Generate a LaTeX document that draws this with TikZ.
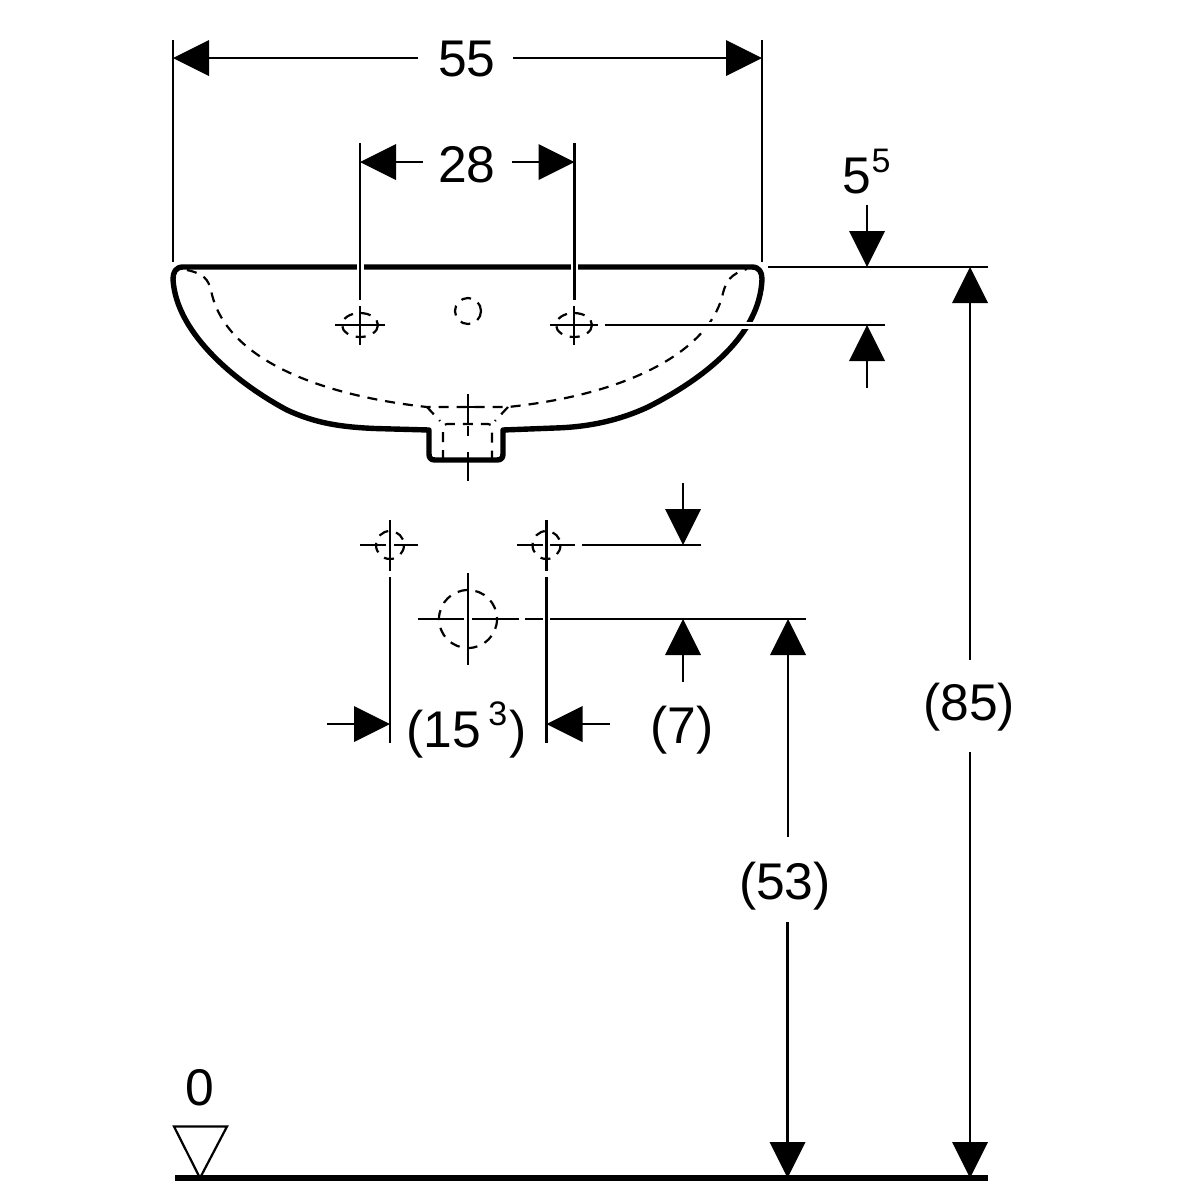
\documentclass[tikz,border=0pt]{standalone}
\usepackage{fontspec}
\setmainfont{Liberation Sans}
\begin{document}
\begin{tikzpicture}[x=0.5pt,y=-0.5pt,
  thinl/.style={line width=1.1pt},
  thickl/.style={line width=2.7pt,line join=round},
  dashl/.style={line width=1.1pt,dash pattern=on 5pt off 4pt},
  halo/.style={draw=white,line width=3.5pt},
  tip/.style={fill=black,draw=none},
  lab/.style={inner sep=0pt,font=\fontsize{25.8}{30}\selectfont},
  suplab/.style={inner sep=0pt,font=\fontsize{17}{20}\selectfont}]
\useasboundingbox (0,0) rectangle (1200,1200);
\fill[white] (0,0) rectangle (1200,1200);
% inner bowl (dashed)
\draw[dashl] (187,270) .. controls (205,274) and (208,280) .. (211,290)
  .. controls (222,350) and (300,393) .. (427,407) -- (508,407)
  .. controls (640,393) and (712,345) .. (723,293)
  .. controls (726,282) and (730,274) .. (747,269);
\draw[dashl] (427,407) -- (440,421) (508,407) -- (495,421);
\draw[dashl] (443,460) -- (443,428) .. controls (443,425) and (445,424) .. (447,424) -- (488,424) .. controls (490,424) and (492,425) .. (492,428) -- (492,460);
% outline
\draw[thickl] (183,267) -- (752,267) .. controls (759,267) and (762,272) .. (762,279)
  .. controls (760,335) and (705,378) .. (648,407)
  .. controls (620,420) and (590,427) .. (555,428) -- (503,430)
  -- (503,454) .. controls (503,458) and (501,460) .. (497,460) -- (435,460)
  .. controls (431,460) and (429,458) .. (429,454) -- (429,430) -- (375,428.5)
  .. controls (340,427) and (315,423) .. (287,410)
  .. controls (240,385) and (176,335) .. (173,279)
  .. controls (173,272) and (176,267) .. (183,267) -- cycle;
% extension lines with gaps
\draw[halo] (360,258) -- (360,276);
\draw[halo] (574,258) -- (574,276);
\draw[halo] (700,325) -- (765,325);
\draw[thinl] (173,40) -- (173,262) (762,40) -- (762,262);
\draw[thinl] (360,143) -- (360,300) (574.5,143) -- (574.5,300);
\draw[thinl] (605,325) -- (885,325) (768,267) -- (988,267);
% tap holes
\foreach \cx/\a/\b in {360/335/385,574/550/598}{
  \draw[dashl] (\cx,325) ellipse [x radius=18,y radius=12];
  \draw[thinl] (\a,325) -- (\b,325) (\cx,306) -- (\cx,345);
}
\draw[dashl] (468,311) circle [radius=13];
\draw[thinl] (468,394) -- (468,423) (468,426) -- (468,436) (468,452) -- (468,481);
\draw[thinl] (460,407) -- (476,407);
% lower holes
\draw[dashl] (390,545) circle [radius=14];
\draw[dashl] (546.5,545) circle [radius=14];
\draw[dashl] (468,619) circle [radius=29];
\draw[thinl] (360,545) -- (386,545) (394,545) -- (418,545) (390,520) -- (390,571) (390,577) -- (390,743);
\draw[thinl] (517,545) -- (543,545) (550,545) -- (575,545) (582,545) -- (701,545) (546.5,520) -- (546.5,571) (546.5,577) -- (546.5,743);
\draw[thinl] (418,619) -- (464,619) (472,619) -- (519,619) (525,619) -- (543,619) (550,619) -- (806,619) (468,573) -- (468,665);
% dimension 55
\fill[tip] (173,58) -- (209,40) -- (209,76) -- cycle;
\fill[tip] (762,58) -- (726,40) -- (726,76) -- cycle;
\draw[thinl] (209,58) -- (418,58) (513,58) -- (726,58);
\node[lab] (d55) at (467,59) {55};
% dimension 28
\fill[tip] (360,162) -- (396,144) -- (396,180) -- cycle;
\fill[tip] (574.5,162) -- (538.5,144) -- (538.5,180) -- cycle;
\draw[thinl] (396,162) -- (423,162) (512,162) -- (539,162);
\node[lab] (d28) at (467,165) {28};
% dimension 5^5
\node[lab] (d5) at (857,176) {5};
\node[suplab] (d5s) at (881,161) {5};
\draw[thinl] (867,205) -- (867,232) (867,360) -- (867,388);
\fill[tip] (867,267) -- (849,231) -- (885,231) -- cycle;
\fill[tip] (867,325) -- (849,361) -- (885,361) -- cycle;
% dimension 85
\fill[tip] (970,267) -- (952,303) -- (988,303) -- cycle;
\fill[tip] (970,1178) -- (952,1142) -- (988,1142) -- cycle;
\draw[thinl] (970,303) -- (970,660) (970,752) -- (970,1142);
\node[lab] (d85) at (969,707) {(85)};
% dimension 53
\fill[tip] (788,619) -- (770,655) -- (806,655) -- cycle;
\fill[tip] (787.5,1178) -- (769.5,1142) -- (805.5,1142) -- cycle;
\draw[thinl] (788,655) -- (788,837) (787.5,922) -- (787.5,1142);
\node[lab] (d53) at (785,886) {(53)};
% dimension 7
\draw[thinl] (683,483) -- (683,510) (683,655) -- (683,682);
\fill[tip] (683,545) -- (665,509) -- (701,509) -- cycle;
\fill[tip] (683,619) -- (665,655) -- (701,655) -- cycle;
\node[lab] (d7) at (682,730) {(7)};
% dimension 15^3
\draw[thinl] (327,724) -- (354,724) (582,724) -- (610,724);
\fill[tip] (390,724) -- (354,706) -- (354,742) -- cycle;
\fill[tip] (546.5,724) -- (582.5,706) -- (582.5,742) -- cycle;
\node[lab] (d15) at (466.5,730) {(15\kern3.7pt\raisebox{11pt}{\fontsize{17}{20}\selectfont 3}\kern1pt)};
% level mark
\node[lab] (d0) at (200,1088) {0};
\draw[thinl,line join=miter] (174,1126.5) -- (227,1126.5) -- (200,1178) -- cycle;
\draw[line width=3pt] (175,1178) -- (988,1178);
\end{tikzpicture}
\end{document}
